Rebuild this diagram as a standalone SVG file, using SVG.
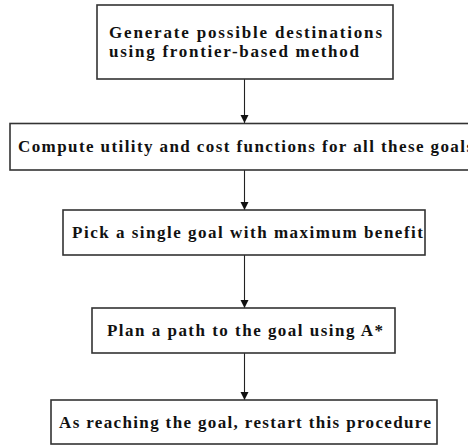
<svg xmlns="http://www.w3.org/2000/svg" width="468" height="445" viewBox="0 0 468 445">
  <style>
    .box { fill: #ffffff; stroke: #333333; stroke-width: 1.6; }
    .lbl { font-family: "Liberation Serif", "Times New Roman", serif; font-weight: bold; font-size: 17px; fill: #111111; }
    .edge { stroke: #222222; stroke-width: 1.1; fill: none; marker-end: url(#tip); }
  </style>
  <defs>
    <marker id="tip" viewBox="0 0 8 10" refX="8" refY="5" markerWidth="8" markerHeight="10" markerUnits="userSpaceOnUse" orient="auto">
      <path d="M0,1 L8,5 L0,9 Z" fill="#111111"/>
    </marker>
  </defs>
  <rect width="468" height="445" fill="#ffffff"/>

  <!-- vertical flow arrows between consecutive steps -->
  <g id="connectors">
    <line class="edge" x1="244.5" y1="79" x2="244.5" y2="123"/>
    <line class="edge" x1="244.5" y1="170" x2="244.5" y2="210"/>
    <line class="edge" x1="244.5" y1="255" x2="244.5" y2="308"/>
    <line class="edge" x1="244.5" y1="353" x2="244.5" y2="400"/>
  </g>

  <g id="generate">
    <rect class="box" x="97" y="5" width="296" height="74"/>
    <text class="lbl" x="109" y="38" textLength="273">Generate possible destinations</text>
    <text class="lbl" x="109" y="57" textLength="250">using frontier-based method</text>
  </g>

  <!-- this box runs past the right edge of the canvas -->
  <g id="compute">
    <rect class="box" x="10" y="123.5" width="470" height="46.5"/>
    <text class="lbl" x="18" y="152" textLength="455">Compute utility and cost functions for all these goals</text>
  </g>

  <g id="pick">
    <rect class="box" x="63" y="210" width="362" height="45"/>
    <text class="lbl" x="72" y="238" textLength="351">Pick a single goal with maximum benefit</text>
  </g>

  <g id="plan">
    <rect class="box" x="92" y="308" width="303" height="45"/>
    <text class="lbl" x="107" y="336" textLength="276">Plan a path to the goal using A*</text>
  </g>

  <g id="restart">
    <rect class="box" x="51" y="400" width="386" height="44"/>
    <text class="lbl" x="59" y="428" textLength="372">As reaching the goal, restart this procedure</text>
  </g>
</svg>
